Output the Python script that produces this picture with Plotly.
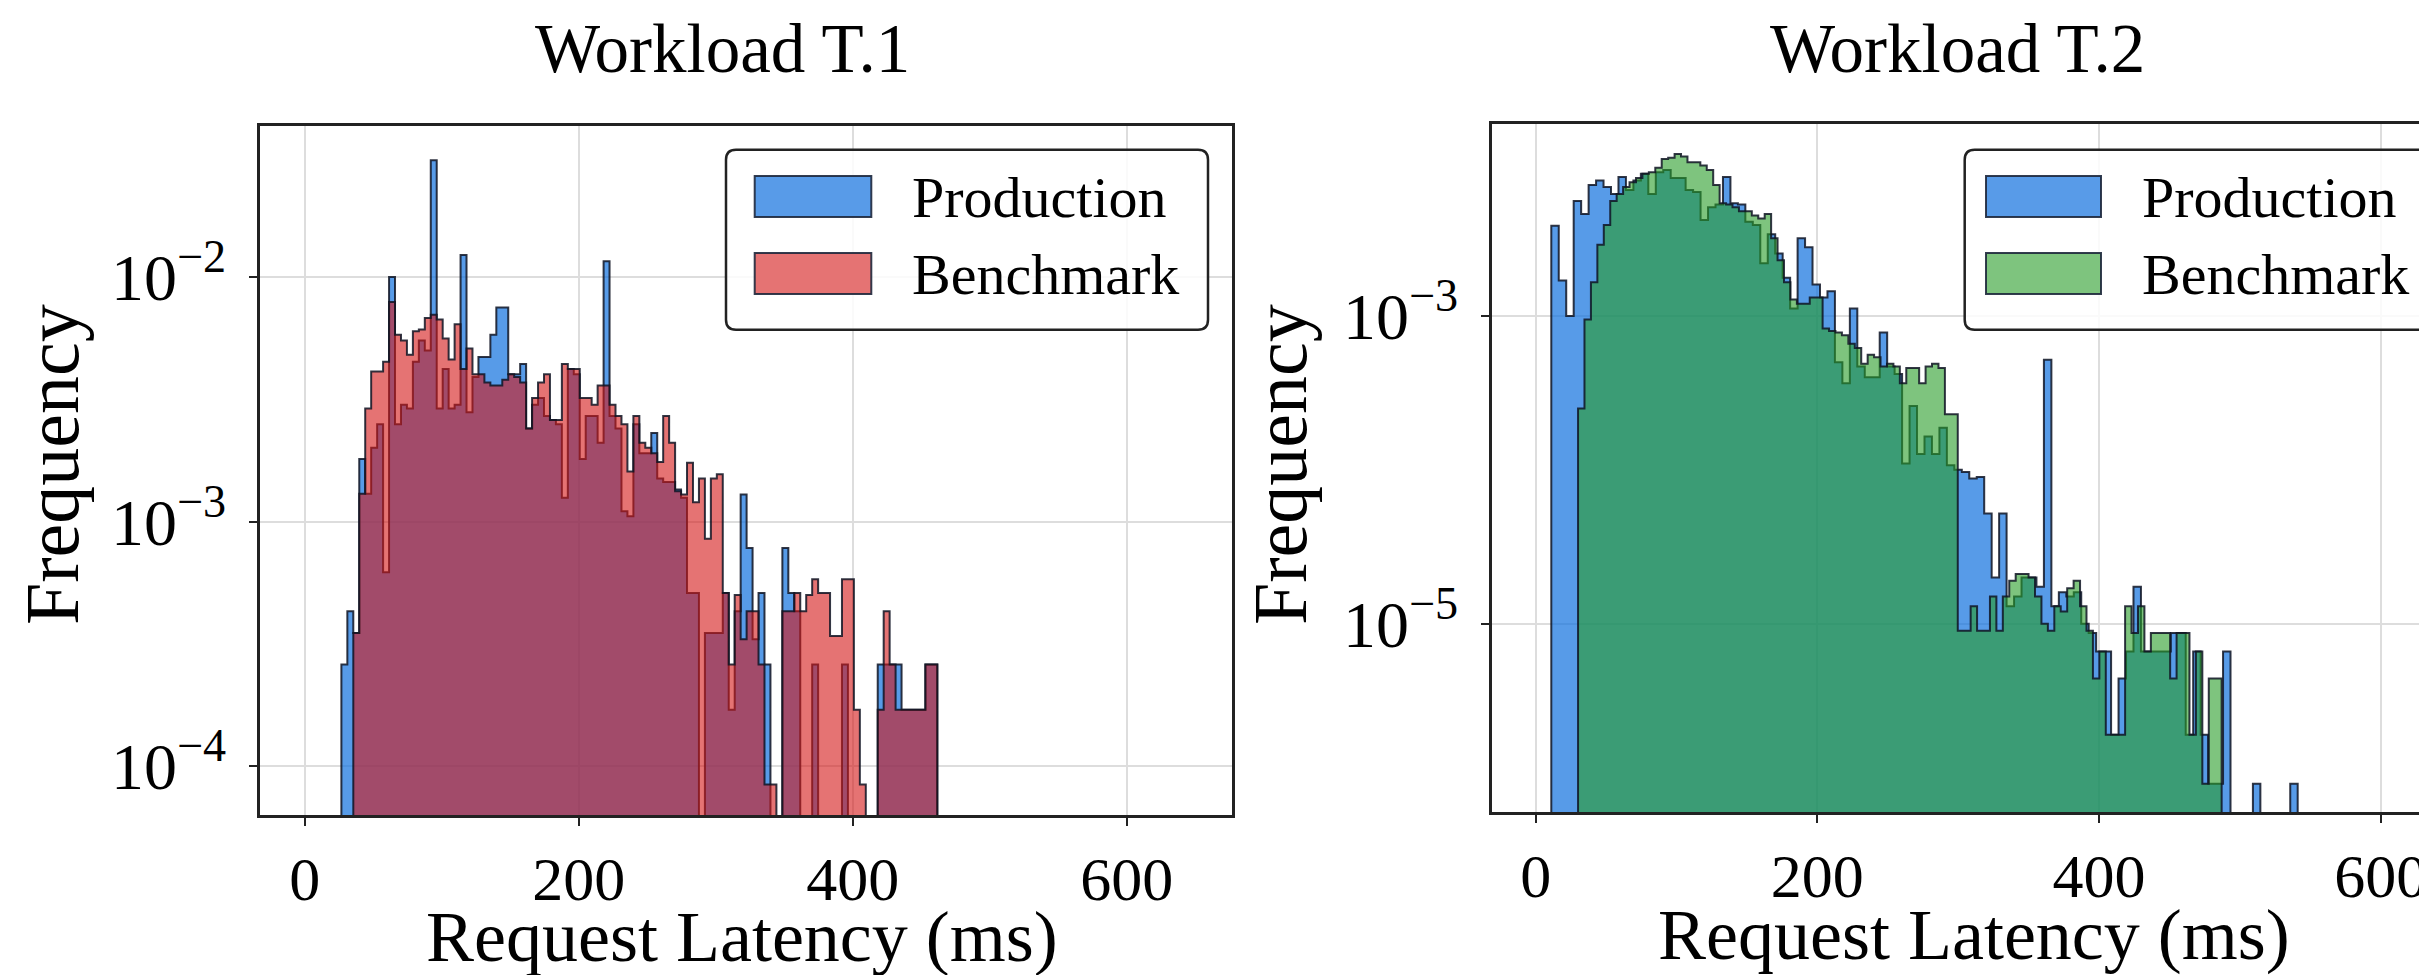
import numpy as np
import plotly.graph_objects as go

W, H = 2427, 975

# ---------------- data ----------------
# Workload T.1 : common bin grid (100 bins)
t1_bin_start = 26.8
t1_bin_width = 4.35
t1_production = [
    2.6e-4, 4.3e-4, 3.5e-4, 1.8e-3, 1.3e-3, 2.0e-3, 2.5e-3, 6.2e-4, 1.0e-2, 2.5e-3,
    3.0e-3, 2.9e-3, 4.5e-3, 5.5e-3, 5.0e-3, 3.0e-2, 2.9e-3, 4.2e-3, 2.9e-3, 3.0e-3,
    1.23e-2, 2.8e-3, 3.9e-3, 4.7e-3, 4.7e-3, 5.8e-3, 7.5e-3, 7.5e-3, 4.0e-3, 4.0e-3,
    4.4e-3, 2.4e-3, 3.0e-3, 3.2e-3, 2.7e-3, 2.6e-3, 2.5e-3, 1.25e-3, 4.2e-3, 4.0e-3,
    1.8e-3, 2.7e-3, 2.7e-3, 2.1e-3, 1.16e-2, 2.7e-3, 2.4e-3, 1.1e-3, 1.05e-3, 2.5e-3,
    1.9e-3, 1.9e-3, 2.3e-3, 1.5e-3, 1.45e-3, 1.45e-3, 1.35e-3, 1.25e-3, 5.1e-4, 5.1e-4,
    0, 3.5e-4, 3.5e-4, 3.5e-4, 5.1e-4, 1.7e-4, 4.3e-4, 1.29e-3, 7.8e-4, 3.3e-4,
    5.1e-4, 2.6e-4, 0, 0, 7.8e-4, 5.1e-4, 4.3e-4, 0, 0, 2.6e-4,
    0, 0, 0, 0, 2.6e-4, 0, 0, 0, 0, 0,
    2.6e-4, 2.6e-4, 2.6e-4, 2.6e-4, 1.7e-4, 1.7e-4, 1.7e-4, 1.7e-4, 2.6e-4, 2.6e-4,
]
t1_benchmark = [
    0, 0, 3.5e-4, 1.3e-3, 2.9e-3, 4.1e-3, 4.1e-3, 4.5e-3, 7.9e-3, 5.8e-3,
    5.5e-3, 4.8e-3, 6.0e-3, 6.1e-3, 6.8e-3, 7.0e-3, 6.7e-3, 5.6e-3, 4.6e-3, 6.4e-3,
    4.2e-3, 5.1e-3, 4.0e-3, 4.0e-3, 3.7e-3, 3.6e-3, 3.6e-3, 3.8e-3, 4.0e-3, 3.9e-3,
    3.7e-3, 2.4e-3, 3.2e-3, 3.7e-3, 4.0e-3, 2.6e-3, 2.6e-3, 4.4e-3, 4.2e-3, 4.2e-3,
    3.2e-3, 3.2e-3, 3.0e-3, 3.6e-3, 3.6e-3, 3.0e-3, 2.7e-3, 2.5e-3, 1.6e-3, 2.7e-3,
    2.1e-3, 2.0e-3, 1.9e-3, 1.75e-3, 2.7e-3, 2.1e-3, 1.33e-3, 1.29e-3, 1.74e-3, 1.2e-3,
    1.5e-3, 8.5e-4, 1.5e-3, 1.56e-3, 5.1e-4, 2.6e-4, 5.0e-4, 3.3e-4, 4.3e-4, 4.3e-4,
    2.6e-4, 8.4e-5, 8.4e-5, 0, 4.3e-4, 4.3e-4, 5.1e-4, 4.3e-4, 5.0e-4, 5.8e-4,
    5.1e-4, 5.1e-4, 3.4e-4, 3.4e-4, 5.8e-4, 5.8e-4, 1.7e-4, 8.4e-5, 0, 0,
    1.7e-4, 4.3e-4, 2.6e-4, 1.7e-4, 1.7e-4, 1.7e-4, 1.7e-4, 1.7e-4, 2.6e-4, 2.6e-4,
]

# Workload T.2
t2_prod_bin_start = 11.1
t2_prod_bin_width = 5.3
t2_production = [
    3.86e-3, 1.7e-3, 1.0e-3, 5.6e-3, 4.6e-3, 7.1e-3, 7.6e-3, 6.9e-3, 6.2e-3, 8.0e-3,
    6.6e-3, 7.6e-3, 8.4e-3, 6.2e-3, 8.6e-3, 8.9e-3, 7.9e-3, 7.9e-3, 6.6e-3, 6.4e-3,
    4.2e-3, 5.1e-3, 5.3e-3, 8.0e-3, 5.4e-3, 5.3e-3, 4.1e-3, 3.9e-3, 2.2e-3, 3.4e-3,
    2.55e-3, 1.77e-3, 1.12e-3, 3.2e-3, 2.8e-3, 1.6e-3, 1.32e-3, 1.45e-3, 5.0e-4, 3.65e-4,
    1.12e-3, 4.7e-4, 4.0e-4, 4.0e-4, 7.8e-4, 4.7e-4, 4.2e-4, 1.1e-4, 2.6e-4, 1.27e-4,
    1.65e-4, 1.27e-4, 1.88e-4, 1.07e-4, 1.0e-4, 9.7e-5, 8.8e-5, 9.0e-5, 5.2e-5, 2.0e-5,
    5.2e-5, 1.3e-5, 1.5e-5, 2.0e-5, 2.0e-5, 1.74e-5, 5.2e-4, 1.3e-5, 1.6e-5, 1.5e-5,
    1.6e-5, 1.0e-5, 8.7e-6, 6.6e-6, 6.6e-6, 1.9e-6, 4.4e-6, 6.6e-6, 1.74e-5, 6.6e-6,
    6.6e-6, 6.6e-6, 6.6e-6, 8.7e-6, 8.7e-6, 1.9e-6, 6.6e-6, 1.9e-6, 9.1e-7, 9.1e-7,
    6.6e-6, 0, 0, 0, 9.1e-7, 0, 0, 0, 0, 9.1e-7,
]
t2_bench_bin_start = 30.1
t2_bench_bin_width = 4.57
t2_benchmark = [
    2.5e-4, 9.5e-4, 1.66e-3, 2.9e-3, 3.9e-3, 5.6e-3, 6.2e-3, 6.9e-3, 7.4e-3, 7.9e-3,
    8.4e-3, 8.6e-3, 9.2e-3, 1.05e-2, 1.07e-2, 1.13e-2, 1.09e-2, 1.0e-2, 1.0e-2, 9.5e-3,
    8.9e-3, 7.1e-3, 5.4e-3, 5.3e-3, 5.1e-3, 4.8e-3, 4.8e-3, 4.5e-3, 4.3e-3, 4.6e-3,
    3.2e-3, 2.3e-3, 1.66e-3, 1.28e-3, 1.2e-3, 1.2e-3, 1.32e-3, 1.32e-3, 8.3e-4, 8.0e-4,
    7.8e-4, 7.5e-4, 6.6e-4, 6.2e-4, 4.9e-4, 5.6e-4, 5.4e-4, 4.7e-4, 4.9e-4, 4.7e-4,
    3.65e-4, 4.6e-4, 4.6e-4, 3.65e-4, 4.7e-4, 4.9e-4, 4.6e-4, 2.3e-4, 2.3e-4, 9e-6,
    9e-6, 1.3e-5, 9e-6, 9e-6, 1.5e-5, 9e-6, 1.5e-5, 1.9e-5, 2.1e-5, 2.1e-5,
    2.0e-5, 1.5e-5, 1.0e-5, 9e-6, 1.3e-5, 1.2e-5, 1.7e-5, 1.9e-5, 1.3e-5, 9e-6,
    4.4e-6, 6.6e-6, 1.9e-6, 1.9e-6, 1.9e-6, 1.3e-5, 8.7e-6, 1.3e-5, 6.6e-6, 8.7e-6,
    8.7e-6, 8.7e-6, 4.4e-6, 8.7e-6, 8.7e-6, 1.9e-6, 6.6e-6, 9.1e-7, 4.4e-6, 4.4e-6,
]

x_tick_vals = [0, 200, 400, 600]
x_tick_text = ["0", "200", "400", "600"]
t1_y_tick_vals = [1e-2, 1e-3, 1e-4]
t1_y_tick_text = ["10<sup>−2</sup>", "10<sup>−3</sup>", "10<sup>−4</sup>"]
t2_y_tick_vals = [1e-3, 1e-5]
t2_y_tick_text = ["10<sup>−3</sup>", "10<sup>−5</sup>"]

titles = ["Workload T.1", "Workload T.2"]
x_title = "Request Latency (ms)"
y_title = "Frequency"
legend_labels = ["Production", "Benchmark"]

# ---------------- styling ----------------
FONT = "Liberation Serif"
BLUE_FILL = "rgba(16,112,222,0.70)"
RED_FILL = "rgba(212,22,22,0.60)"
GREEN_FILL = "rgba(40,157,40,0.60)"
EDGE = "rgba(15,20,35,0.85)"
BLUE_SW = "rgb(88,155,232)"
RED_SW = "rgb(229,115,115)"
GREEN_SW = "rgb(126,196,126)"
FRAME = "#222222"
GRID = "#dddddd"
FLOOR = 1e-9


def px(x):
    return x / W


def py(y):
    return 1 - y / H


def step_polygon(start, width, freqs):
    edges = start + width * np.arange(len(freqs) + 1)
    xs, ys = [edges[0]], [FLOOR]
    for i, f in enumerate(freqs):
        v = f if f > 0 else FLOOR
        xs += [edges[i], edges[i + 1]]
        ys += [v, v]
    xs.append(edges[-1])
    ys.append(FLOOR)
    return xs, ys


fig = go.Figure()


def add_hist(start, width, freqs, fill, xa, ya):
    xs, ys = step_polygon(start, width, freqs)
    fig.add_trace(go.Scatter(
        x=xs, y=ys, mode="lines", fill="toself", fillcolor=fill,
        line=dict(color=EDGE, width=2), xaxis=xa, yaxis=ya,
        showlegend=False, hoverinfo="skip"))


add_hist(t1_bin_start, t1_bin_width, t1_production, BLUE_FILL, "x", "y")
add_hist(t1_bin_start, t1_bin_width, t1_benchmark, RED_FILL, "x", "y")
add_hist(t2_prod_bin_start, t2_prod_bin_width, t2_production, BLUE_FILL, "x2", "y2")
add_hist(t2_bench_bin_start, t2_bench_bin_width, t2_benchmark, GREEN_FILL, "x2", "y2")

xtickfont = dict(family=FONT, size=62, color="black")
ytickfont = dict(family=FONT, size=66, color="black")
common_x = dict(
    tickvals=x_tick_vals, ticktext=x_tick_text, showgrid=True, gridcolor=GRID,
    gridwidth=1.5, zeroline=False, showline=True, linecolor=FRAME, linewidth=2.5,
    mirror=True, ticks="outside", ticklen=8, tickwidth=2, tickcolor=FRAME,
    tickfont=xtickfont,
)
common_y = dict(
    type="log", showgrid=True, gridcolor=GRID, gridwidth=1.5, zeroline=False,
    showline=True, linecolor=FRAME, linewidth=2.5, ticks="outside", ticklen=8,
    tickwidth=2, tickcolor=FRAME, tickfont=ytickfont, ticklabelstandoff=10,
)

fig.update_layout(
    width=W, height=H, margin=dict(l=0, r=0, t=0, b=0),
    paper_bgcolor="white", plot_bgcolor="white", showlegend=False,
    xaxis=dict(domain=[px(252), px(1224)], anchor="y", range=[-32.6, 676.9], **common_x),
    yaxis=dict(domain=[py(807), py(118)], anchor="x", range=[-4.2, -1.383],
               tickvals=t1_y_tick_vals, ticktext=t1_y_tick_text, mirror=True, **common_y),
    xaxis2=dict(domain=[px(1484), 1.0], anchor="y2", range=[-31.0, 638.6], **common_x),
    yaxis2=dict(domain=[py(804), py(116)], anchor="x2", range=[-6.224, -1.752],
                tickvals=t2_y_tick_vals, ticktext=t2_y_tick_text, mirror=False, **common_y),
)

annotations = []
# titles
for txt, cx in zip(titles, [714, 1949]):
    annotations.append(dict(text=txt, x=px(cx), y=py(41), xref="paper", yref="paper",
                            xanchor="center", yanchor="middle", showarrow=False,
                            font=dict(family=FONT, size=69, color="black")))
# x titles
for cx, cy in [(734, 929), (1966, 927)]:
    annotations.append(dict(text=x_title, x=px(cx), y=py(cy), xref="paper", yref="paper",
                            xanchor="center", yanchor="middle", showarrow=False,
                            font=dict(family=FONT, size=72, color="black")))
# y titles
for cx, cy in [(44, 457), (1272, 457)]:
    annotations.append(dict(text=y_title, x=px(cx), y=py(cy), xref="paper", yref="paper",
                            xanchor="center", yanchor="middle", showarrow=False, textangle=-90,
                            font=dict(family=FONT, size=76, color="black")))

shapes = []


def rounded_box(x0, y0, x1, y1, r=10):
    rx, ry = r / W, r / H
    X0, X1, T, B = px(x0), px(x1), py(y0), py(y1)
    path = (f"M {X0+rx},{T} L {X1-rx},{T} Q {X1},{T} {X1},{T-ry} "
            f"L {X1},{B+ry} Q {X1},{B} {X1-rx},{B} L {X0+rx},{B} "
            f"Q {X0},{B} {X0},{B+ry} L {X0},{T-ry} Q {X0},{T} {X0+rx},{T} Z")
    return dict(type="path", path=path, xref="paper", yref="paper",
                fillcolor="rgba(255,255,255,0.85)", line=dict(color=FRAME, width=2.5),
                layer="above")


def legend(bx0, bx1, sw_x0, sw_x1, text_x, colors):
    shapes.append(rounded_box(bx0, 141.7, bx1, 321.7))
    for (y0, y1), col, lab in zip([(168, 209), (245, 286)], colors, legend_labels):
        shapes.append(dict(type="rect", xref="paper", yref="paper",
                           x0=px(sw_x0), x1=px(sw_x1), y0=py(y1), y1=py(y0),
                           fillcolor=col, line=dict(color="rgba(30,40,60,0.9)", width=2),
                           layer="above"))
        annotations.append(dict(text=lab, x=px(text_x), y=py((y0 + y1) / 2 + 1),
                                xref="paper", yref="paper", xanchor="left", yanchor="middle",
                                showarrow=False,
                                font=dict(family=FONT, size=58, color="black")))


legend(718, 1200, 746.7, 863.3, 902, [BLUE_SW, RED_SW])
legend(1956.7, 2421.7, 1978, 2093, 2132, [BLUE_SW, GREEN_SW])

fig.update_layout(annotations=annotations, shapes=shapes)
fig.write_html("out.html")
